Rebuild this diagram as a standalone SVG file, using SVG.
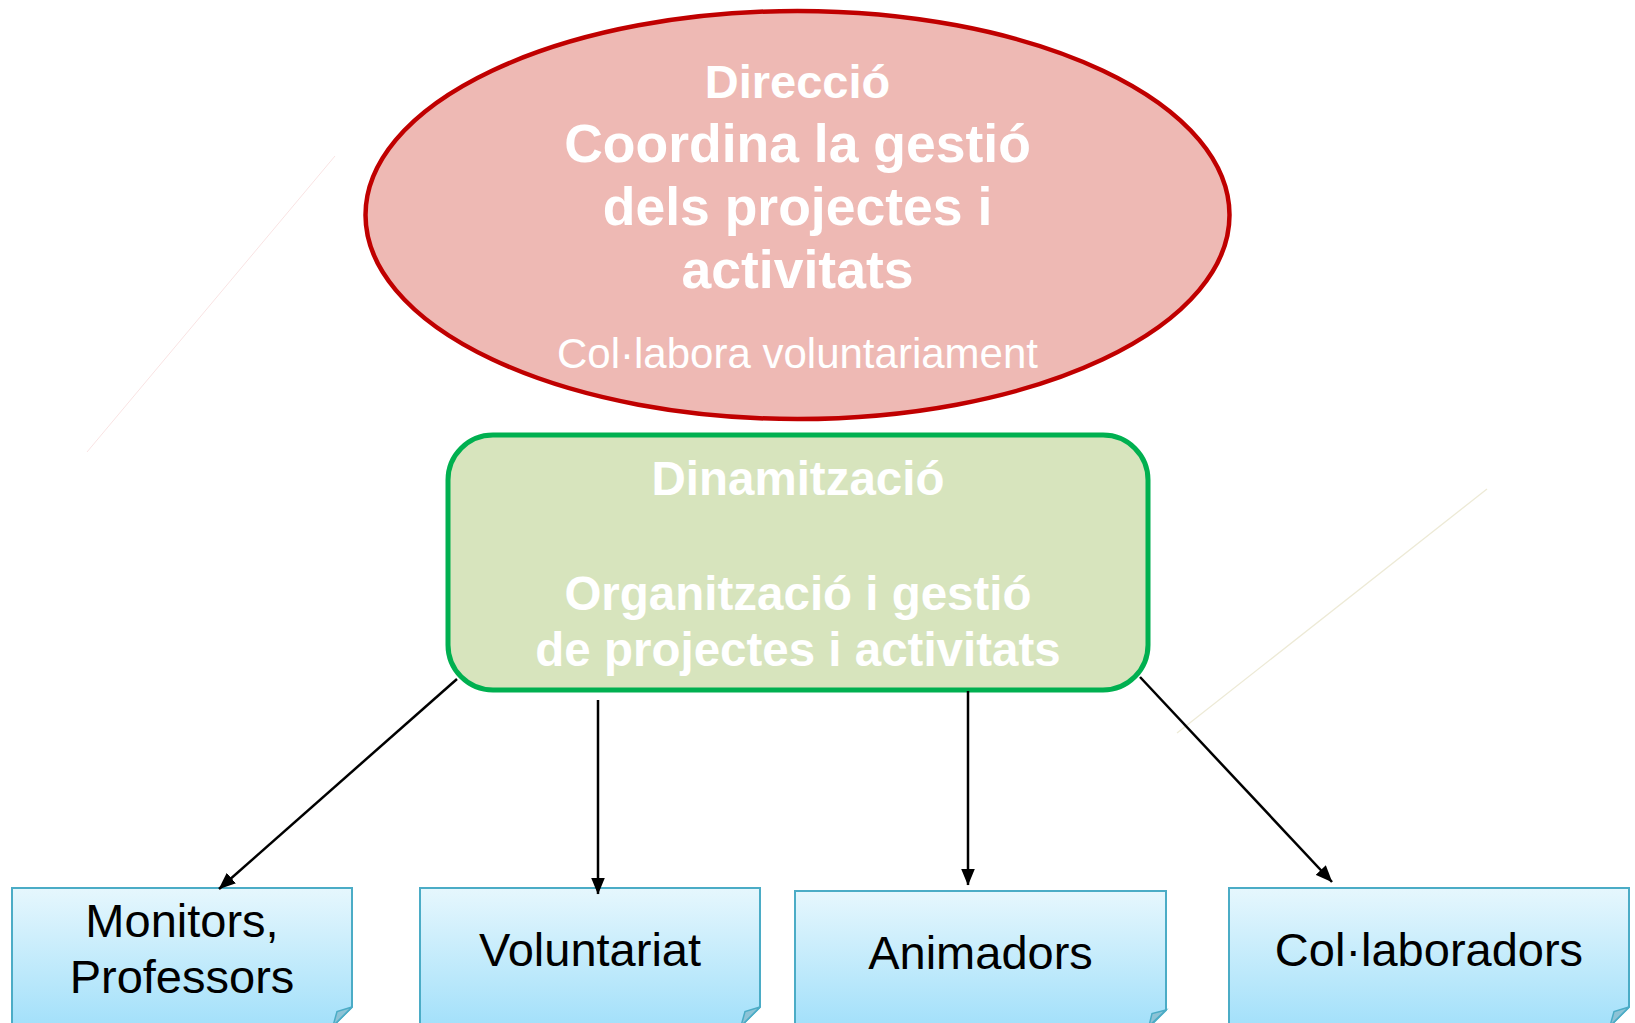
<svg xmlns="http://www.w3.org/2000/svg" width="1635" height="1023" viewBox="0 0 1635 1023">
<defs>
<linearGradient id="boxGrad" x1="0" y1="0" x2="0" y2="1">
<stop offset="0" stop-color="#E6F7FD"/>
<stop offset="1" stop-color="#A3E0FA"/>
</linearGradient>
<marker id="arrow" markerUnits="userSpaceOnUse" markerWidth="17" markerHeight="14" viewBox="0 0 17 14" refX="16.5" refY="7" orient="auto">
<path d="M0,0 L17,7 L0,14 Z" fill="#000"/>
</marker>
</defs>
<style>
.bold{font-family:"Liberation Sans",Arial,sans-serif;font-weight:bold;fill:#FFFFFF;text-anchor:middle}
.reg{font-family:"Liberation Sans",Arial,sans-serif;text-anchor:middle}
.box{fill:url(#boxGrad);stroke:#4BACC6;stroke-width:2}
.fold{fill:#8DC3D6;stroke:#4BACC6;stroke-width:1.5}
.btxt{font-family:"Liberation Sans",Arial,sans-serif;font-size:47px;fill:#000;text-anchor:middle}
.conn{stroke:#000;stroke-width:2.5;fill:none;marker-end:url(#arrow)}
</style>
<rect width="1635" height="1023" fill="#FFFFFF"/>
<line x1="335" y1="156" x2="87" y2="452" stroke="#F9E3E3" stroke-width="1"/>
<line x1="1487" y1="489" x2="1177" y2="733" stroke="#EDEAD6" stroke-width="1.3"/>
<g id="direccio">
<ellipse cx="797.5" cy="215" rx="432" ry="204" fill="#EEB9B4" stroke="#C00000" stroke-width="4.5"/>
<text class="bold" x="797.5" y="98" font-size="47">Direcció</text>
<text class="bold" x="797.5" y="162" font-size="53.5">Coordina la gestió</text>
<text class="bold" x="797.5" y="225" font-size="53.5">dels projectes i</text>
<text class="bold" x="797.5" y="288" font-size="53.5">activitats</text>
<text class="reg" x="797.5" y="368" font-size="42" fill="#FFFFFF">Col·labora voluntariament</text>
</g>
<g id="dinamitzacio">
<rect x="448" y="435" width="700" height="255" rx="45" ry="45" fill="#D7E4BD" stroke="#00B050" stroke-width="5"/>
<text class="bold" x="798" y="495" font-size="47.5">Dinamització</text>
<text class="bold" x="798" y="610" font-size="47.5">Organització i gestió</text>
<text class="bold" x="798" y="666" font-size="47.5">de projectes i activitats</text>
</g>
<g id="monitors">
<path class="box" d="M12,888 H352 V1007 L333,1026 H12 Z"/>
<path class="fold" d="M352,1007 L337,1011.5 L333,1026 Z"/>
<text class="btxt" x="182" y="937">Monitors,</text>
<text class="btxt" x="182" y="993">Professors</text>
</g>
<g id="voluntariat">
<path class="box" d="M420,888 H760 V1007 L741,1026 H420 Z"/>
<path class="fold" d="M760,1007 L745,1011.5 L741,1026 Z"/>
<text class="btxt" x="590" y="966">Voluntariat</text>
</g>
<g id="animadors">
<path class="box" d="M795,891 H1166 V1010 L1150,1026 H795 Z"/>
<path class="fold" d="M1166,1010 L1152,1013.5 L1149,1026 Z"/>
<text class="btxt" x="980.5" y="969">Animadors</text>
</g>
<g id="collaboradors">
<path class="box" d="M1229,888 H1629 V1007 L1610,1026 H1229 Z"/>
<path class="fold" d="M1629,1007 L1614,1011.5 L1610,1026 Z"/>
<text class="btxt" x="1429" y="966">Col·laboradors</text>
</g>
<g id="connectors">
<line class="conn" x1="457" y1="679" x2="219" y2="889"/>
<line class="conn" x1="598" y1="700" x2="598" y2="894"/>
<line class="conn" x1="968" y1="691" x2="968" y2="885"/>
<line class="conn" x1="1140" y1="677" x2="1332" y2="882"/>
</g>
</svg>
